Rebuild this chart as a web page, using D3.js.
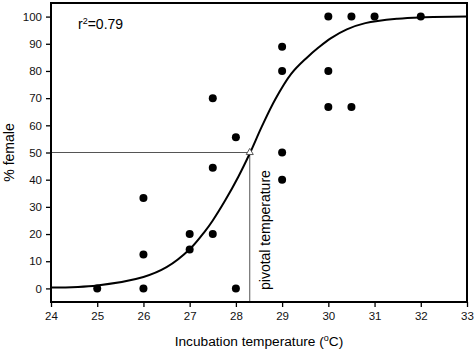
<!DOCTYPE html>
<html>
<head>
<meta charset="utf-8">
<script src="https://cdn.jsdelivr.net/npm/d3@7"></script>
<style>
  body { margin: 0; background: #fff; }
  text { font-family: "Liberation Sans", Arial, sans-serif; }
</style>
</head>
<body>
<script>
// observed points: incubation temperature vs % female
var temps = [25, 26, 26, 26, 27, 27, 27.5, 27.5, 27.5, 28, 28, 29, 29, 29, 29, 30, 30, 30, 30.5, 30.5, 31, 32];
var pctFemale = [0, 0, 12.5, 33.3, 14.3, 20, 20, 44.4, 70, 0, 55.6, 40, 50, 80, 88.9, 66.7, 80, 100, 66.7, 100, 100, 100];

// fitted curve
var curveT = [24, 25, 26, 26.5, 27, 27.33, 27.5, 27.77, 28.05, 28.31, 28.56, 28.85, 29.2, 29.53, 29.8, 30.05, 30.4, 30.8, 31.5, 32, 33];
var curveY = [0.3, 1.1, 4.2, 7.8, 14.4, 21, 25, 32.4, 41, 50, 59.5, 69.5, 79, 84.8, 88.8, 92, 95.3, 97.6, 99.2, 99.7, 100];

var pivotT = 28.3, pivotY = 50;
var xTicks = [24, 25, 26, 27, 28, 29, 30, 31, 32, 33];
var yTicks = [0, 10, 20, 30, 40, 50, 60, 70, 80, 90, 100];

var margin = {top: 3, right: 7, bottom: 49, left: 51},
    width = 474 - margin.left - margin.right,
    height = 351 - margin.top - margin.bottom;

var svg = d3.select("body").append("svg")
    .attr("width", 474)
    .attr("height", 351)
  .append("g")
    .attr("transform", "translate(" + margin.left + "," + margin.top + ")");

var x = d3.scaleLinear().domain([24, 33]).range([0, width]);
var y = d3.scaleLinear().domain([-5, 105]).range([height, 0]);

// axes
var xAxis = svg.append("g")
    .attr("transform", "translate(0," + height + ")")
    .call(d3.axisBottom(x).tickValues(xTicks).tickSize(5).tickPadding(5).tickFormat(d3.format("d")));
var yAxis = svg.append("g")
    .call(d3.axisLeft(y).tickValues(yTicks).tickSize(5).tickPadding(4).tickFormat(d3.format("d")));
[xAxis, yAxis].forEach(function (a) {
    a.select(".domain").remove();
    a.selectAll("line").attr("stroke", "#000").attr("stroke-width", 1.3);
    a.selectAll("text").attr("font-size", 11.5).attr("fill", "#111")
        .style("font-family", "'Liberation Sans', Arial, sans-serif");
});

// pivot reference lines
svg.append("line")
    .attr("x1", 0).attr("x2", x(pivotT))
    .attr("y1", y(pivotY)).attr("y2", y(pivotY))
    .attr("stroke", "#555").attr("stroke-width", 1);
svg.append("line")
    .attr("x1", x(pivotT)).attr("x2", x(pivotT))
    .attr("y1", y(pivotY)).attr("y2", height)
    .attr("stroke", "#555").attr("stroke-width", 1);

// fitted curve
var line = d3.line()
    .x(function (d) { return x(d[0]); })
    .y(function (d) { return y(d[1]); })
    .curve(d3.curveCatmullRom.alpha(0.5));
svg.append("path")
    .datum(d3.zip(curveT, curveY))
    .attr("fill", "none")
    .attr("stroke", "#000")
    .attr("stroke-width", 2)
    .attr("d", line);

// points
svg.selectAll(".dot")
    .data(d3.zip(temps, pctFemale))
    .enter().append("circle")
    .attr("class", "dot")
    .attr("cx", function (d) { return x(d[0]); })
    .attr("cy", function (d) { return y(d[1]); })
    .attr("r", 4)
    .attr("fill", "#000");

// pivot marker
svg.append("path")
    .attr("d", d3.symbol(d3.symbolTriangle, 22)())
    .attr("transform", "translate(" + x(pivotT) + "," + y(pivotY) + ")")
    .attr("fill", "#fff")
    .attr("stroke", "#555")
    .attr("stroke-width", 1);

// frame
svg.append("rect")
    .attr("width", width).attr("height", height)
    .attr("fill", "none").attr("stroke", "#000").attr("stroke-width", 2);

// labels
svg.append("text")
    .attr("transform", "translate(" + (x(pivotT) + 20) + "," + (height - 12) + ") rotate(-90)")
    .attr("font-size", 14)
    .text("pivotal temperature");

var r2 = svg.append("text")
    .attr("x", 27).attr("y", 26)
    .attr("font-size", 14);
r2.append("tspan").text("r");
r2.append("tspan").attr("font-size", 9).attr("dy", -5).text("2");
r2.append("tspan").attr("dy", 5).text("=0.79");

var xt = svg.append("text")
    .attr("x", width / 2).attr("y", height + 44)
    .attr("text-anchor", "middle")
    .attr("font-size", 13.7);
xt.append("tspan").text("Incubation temperature (");
xt.append("tspan").attr("font-size", 9).attr("dy", -5).text("o");
xt.append("tspan").attr("dy", 5).text("C)");

svg.append("text")
    .attr("transform", "translate(" + (-37) + "," + (height / 2) + ") rotate(-90)")
    .attr("text-anchor", "middle")
    .attr("font-size", 14)
    .text("% female");
</script>
</body>
</html>
